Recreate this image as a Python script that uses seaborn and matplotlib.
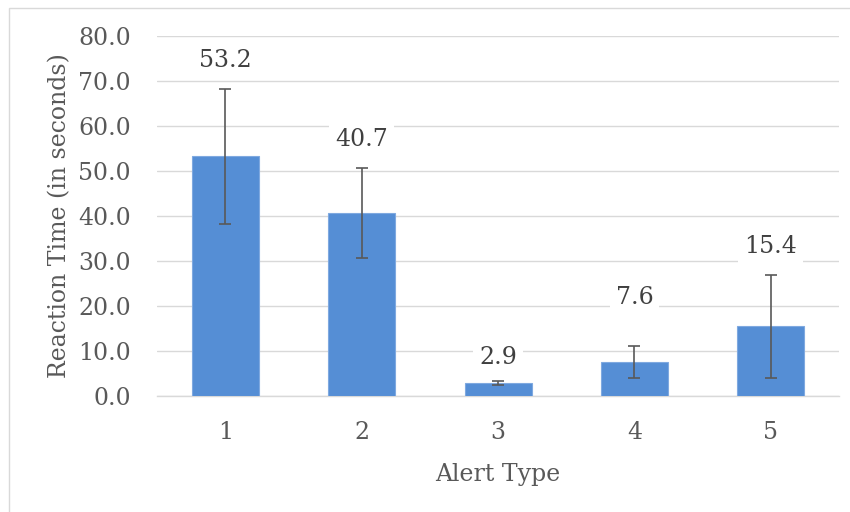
import matplotlib
matplotlib.use("Agg")
import matplotlib.pyplot as plt
from matplotlib.patches import Rectangle
import seaborn as sns
import pandas as pd

# values
alert_types = ["1", "2", "3", "4", "5"]
reaction_means = [53.2, 40.7, 2.9, 7.6, 15.4]
reaction_err = [15.0, 10.0, 0.45, 3.55, 11.4]
y_ticks = [0, 10, 20, 30, 40, 50, 60, 70, 80]

df = pd.DataFrame({"Alert Type": alert_types, "Reaction Time": reaction_means})

sns.set_theme(style="white")
plt.rcParams["font.family"] = ["DejaVu Serif"]

bar_col = "#558ED5"
txt_col = "#595959"
fs = 17

fig = plt.figure(figsize=(8.5, 5.12), dpi=100)
ax = fig.add_axes([0.185, 0.227, 0.802, 0.703])

sns.barplot(data=df, x="Alert Type", y="Reaction Time", color=bar_col,
            width=0.49, errorbar=None, saturation=1, ax=ax,
            edgecolor="#7FA9E0", linewidth=0.8, zorder=3)
ax.errorbar(range(len(alert_types)), reaction_means, yerr=reaction_err,
            fmt="none", ecolor="#595959", elinewidth=1.2, capsize=4.5,
            capthick=1.2, zorder=4)

# data labels sit above the error bars, white box hides the grid
nudge = [0, 0, -1.2, 4.5, 0]
for i, (m, e) in enumerate(zip(reaction_means, reaction_err)):
    ax.text(i, m + e + 6.3 + nudge[i], f"{m:.1f}", ha="center", va="center",
            fontsize=fs, color="#404040", zorder=5,
            bbox=dict(boxstyle="square,pad=0.25", fc="white", ec="none"))

ax.set_ylim(0, 80)
ax.set_yticks(y_ticks)
ax.set_yticklabels([f"{v:.1f}" for v in y_ticks])
ax.set_xlim(-0.5, 4.5)
ax.yaxis.grid(True, color="#D9D9D9", linewidth=1.0, zorder=0)
ax.set_axisbelow(True)
for s in ["top", "right", "left"]:
    ax.spines[s].set_visible(False)
ax.spines["bottom"].set_color("#D9D9D9")
ax.spines["bottom"].set_linewidth(1.0)
ax.tick_params(axis="both", length=0, labelsize=fs, labelcolor=txt_col)
ax.tick_params(axis="y", pad=19)
ax.tick_params(axis="x", pad=18)

ax.set_xlabel("Alert Type", fontsize=fs, color=txt_col, labelpad=14)
ax.set_ylabel("Reaction Time (in seconds)", fontsize=fs, color=txt_col, labelpad=5)

# light frame around the chart area
fig.patches.append(Rectangle((9 / 850, -0.05), 1.1, 1 - 8 / 512 + 0.05,
                             transform=fig.transFigure, fill=False,
                             ec="#D9D9D9", lw=1.0))

fig.savefig("out.png", dpi=100)
